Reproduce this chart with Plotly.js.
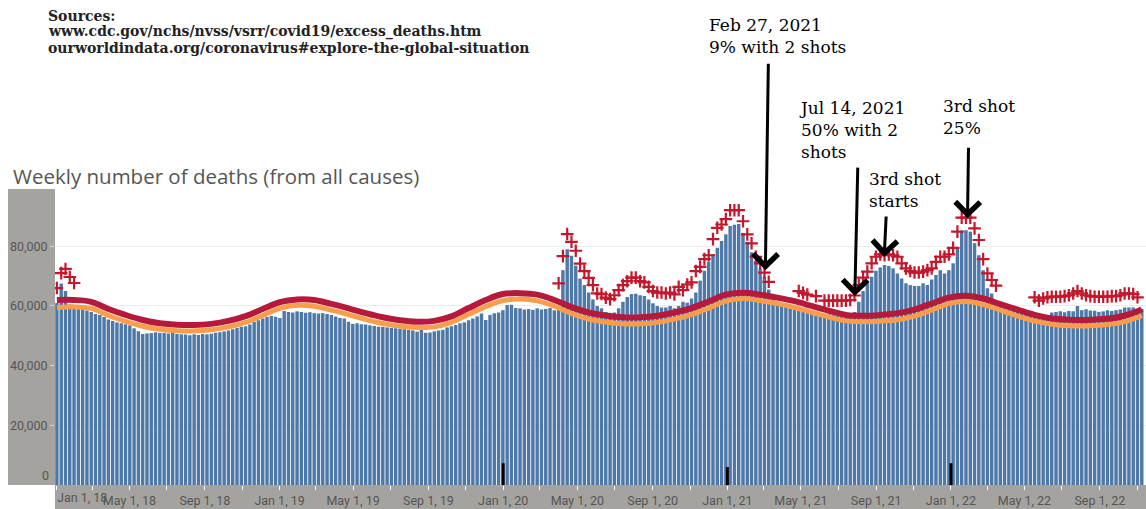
<!DOCTYPE html>
<html><head><meta charset="utf-8">
<script src="https://cdn.plot.ly/plotly-3.0.1.min.js"></script>
<style>html,body{margin:0;padding:0;background:#fff;}#chart{width:1146px;height:509px;}</style>
</head><body><div id="chart"></div>
<script>
const _ = null;
// weekly periods (week starting Saturday), first week starts 2017-12-30
const firstWeek = '2017-12-30';
const weekCount = 254;

// Weekly number of deaths (all causes)
const deaths = [
61000,67500,65000,60500,59500,59500,59300,58500,58000,57300,
57000,56300,55500,55000,54500,54200,53900,53500,52500,51500,
50600,50800,50900,51200,51000,51000,50800,50900,50600,50500,
50400,50200,50500,50300,50600,50500,50700,51000,51200,51500,
51800,52200,52600,53000,53200,53800,54600,55200,55800,56300,
56600,56400,56000,58300,58000,57800,58200,58000,57700,57900,
57600,57500,57600,57300,57000,56500,56000,55800,54700,54000,
54200,53900,53800,53500,53300,53000,53000,52800,52600,52500,
52300,52200,52000,51800,51400,52200,51000,51100,51500,51800,
52000,52800,53200,53600,54200,54500,55200,55800,56500,57500,
55300,57000,57600,57800,58600,60300,60400,59300,59200,58800,
59000,58700,59200,58800,59000,59300,58600,59600,72000,79000,
76800,73500,69200,67000,64500,62200,60000,59200,58000,57700,
57800,59200,61400,63000,64000,64100,63600,63300,62200,60900,
60000,59500,59500,60000,59200,60000,61400,61100,62500,64500,
68500,71800,74800,77400,79500,81800,84000,86800,87200,87500,
84500,81500,78000,75000,72500,69800,65500,62500,61500,60500,
59600,59200,59000,58800,58600,58300,58000,57800,57600,57400,
57200,57000,56900,56800,56600,57000,58000,61400,65000,67600,
69800,71800,72900,73700,73400,72600,70900,69200,67600,67000,
66700,66700,67600,67000,68900,70400,72000,70900,72000,74300,
79800,85200,85400,84900,81000,77000,72000,65900,64200,62000,
61000,60500,60000,59500,59000,58500,58000,57500,56800,56300,
55800,55500,57800,58000,58200,57900,58300,58200,60000,58600,
58900,58500,58400,58000,58200,58600,58300,58600,58800,59500,
59500,59500,58600,59000
];

// weeks flagged above the threshold (+ marks), one entry per week
const flagged = [
66000,71000,72400,69700,67700,_,_,_,_,_,                 // weeks 0-9
_,_,_,_,_,_,_,_,_,_, _,_,_,_,_,_,_,_,_,_,                 // 10-29
_,_,_,_,_,_,_,_,_,_, _,_,_,_,_,_,_,_,_,_,                 // 30-49
_,_,_,_,_,_,_,_,_,_, _,_,_,_,_,_,_,_,_,_,                 // 50-69
_,_,_,_,_,_,_,_,_,_, _,_,_,_,_,_,_,_,_,_,                 // 70-89
_,_,_,_,_,_,_,_,_,_, _,_,_,_,_,_,_,_,_,_,                 // 90-109
_,_,_,_,_,_,_,                                            // 110-116
67600,76700,84100,81500,78500,74200,71700,69400,67000,64200,64000, // 117-127
62800,62300,63600,65300,67000,68300,69500,69500,68300,67900,       // 128-137
66400,65000,64500,64500,64200,64500,63900,66400,65300,67200,       // 138-147
67900,71700,73100,75700,77000,82400,86200,87300,89100,92100,       // 148-157
92100,92100,88400,84000,81000,76500,74300,71200,68100,             // 158-166
_,_,_,_,_,_,                                                       // 167-172
65000,64400,63800,_,63300,_,                                       // 173-178
61800,61800,61800,61800,61800,61800,62000,                         // 179-185
63500,67000,69500,71500,74300,76500,77300,77000,77300,77000,       // 186-195
76500,74300,72600,71700,71200,71200,71500,72000,72600,74800,       // 196-205
76500,76500,77300,79500,84900,89600,89600,89600,86000,82100,       // 206-215
75700,70900,68700,66800,                                           // 216-219
_,_,_,_,_,_,_,_,                                                   // 220-227
62900,61800,62500,62900,63100,63100,63100,63300,63600,64200,       // 228-237
65000,64200,63600,63300,63100,63100,63100,63100,63300,63300,       // 238-247
63600,64200,64200,64000,62900,                                     // 248-252
_                                                                  // 253
];

// threshold lines, read every 4th week (+ last week)
const lineStep = 4;
const upperBound = [
62000,62000,61400,59000,57000,55300,54200,53700,53600,54000,
55000,56600,59000,61300,62200,62000,60700,59200,57600,56200,
55200,54700,55000,56500,59300,62000,64000,64300,63800,62000,
59600,57800,56800,56200,56200,56700,57800,59300,61500,63800,
64400,63800,62800,61600,60000,58400,57000,56700,57000,57600,
58800,60800,62800,63400,62500,60600,58800,57000,55800,55400,
55300,55600,56400,58200,59000
];
const expected = [
59400,59700,59200,56800,54800,53200,52200,51700,51600,52000,
53000,54500,56800,59200,60200,59900,58600,57100,55500,54100,
53200,52800,53000,54500,57200,59800,61800,62300,61700,59900,
57500,55600,54600,54000,54000,54500,55600,57100,59300,61600,
62500,61800,60800,59500,57900,56300,55000,54700,54900,55400,
56600,58600,60800,61500,60500,58600,56600,54900,53900,53400,
53300,53600,54400,56200,56800
];

const tickDates = ['2018-01-01','2018-05-01','2018-09-01','2019-01-01','2019-05-01','2019-09-01','2020-01-01','2020-05-01','2020-09-01','2021-01-01','2021-05-01','2021-09-01','2022-01-01','2022-05-01','2022-09-01'];
const tickLabels = ['Jan 1, 18','May 1, 18','Sep 1, 18','Jan 1, 19','May 1, 19','Sep 1, 19','Jan 1, 20','May 1, 20','Sep 1, 20','Jan 1, 21','May 1, 21','Sep 1, 21','Jan 1, 22','May 1, 22','Sep 1, 22'];
const yTickVals = [20000,40000,60000,80000];
const yTickLabels = ['20,000','40,000','60,000','80,000'];
const yearMarks = ['2020-01-01','2021-01-01','2022-01-01'];
const yearMarkHeights = [7300,6000,7300];

const titleText = 'Weekly number of deaths (from all causes)';
const sourcesLines = ['Sources:','www.cdc.gov/nchs/nvss/vsrr/covid19/excess_deaths.htm','ourworldindata.org/coronavirus#explore-the-global-situation'];
const notes = [
  {text:'Feb 27, 2021<br>9% with 2 shots', tip:['2021-03-04',72000], tail:[3,-208], px:708, top:1.5914},
  {text:'Jul 14, 2021<br>50% with 2<br>shots', tip:['2021-07-28',63300], tail:[3,-130], px:798, top:1.3110},
  {text:'3rd shot<br>starts', tip:['2021-09-14',76400], tail:[2,-42], px:868, top:1.0694},
  {text:'3rd shot<br>25%', tip:['2022-01-28',89400], tail:[1,-72], px:942, top:1.3160}
];

// ---- build
const DAY = 86400000;
const t0 = Date.parse(firstWeek + 'T00:00:00Z');
const weeks = [];
for (let i = 0; i < weekCount; i++) weeks.push(new Date(t0 + i*7*DAY).toISOString().slice(0,10));
const lineWeeks = [];
for (let i = 0; i < weekCount; i += lineStep) lineWeeks.push(weeks[i]);
lineWeeks.push(weeks[weekCount-1]);

const per = {xperiod: 7*DAY, xperiod0: firstWeek, xperiodalignment: 'middle'};

const traces = [
  Object.assign({type:'bar', x:weeks, y:deaths, marker:{color:'#4e78a8', line:{width:0}}, hoverinfo:'skip'}, per),
  Object.assign({type:'scatter', mode:'lines', x:lineWeeks, y:expected, line:{color:'#f89d4b', width:5, shape:'spline', smoothing:1}, hoverinfo:'skip'}, per),
  Object.assign({type:'scatter', mode:'lines', x:lineWeeks, y:upperBound, line:{color:'#b51a3d', width:6, shape:'spline', smoothing:1}, hoverinfo:'skip'}, per),
  Object.assign({type:'scatter', mode:'markers', x:weeks, y:flagged, marker:{symbol:'cross-thin', size:9, line:{width:2.2, color:'#c2172c'}}, hoverinfo:'skip'}, per)
];

const PLOT_L = 55, PLOT_W = 1091, PLOT_B = 485, PLOT_H = 296;
const px2x = p => (p - PLOT_L) / PLOT_W;
const px2y = p => (PLOT_B - p) / PLOT_H;

const annotations = [
  {xref:'paper', yref:'paper', x:px2x(56), y:px2y(497), xanchor:'left', yanchor:'middle', showarrow:false, borderpad:0,
   text:tickLabels[0], font:{family:'Roboto', size:12.5, color:'#555'}},
  {xref:'paper', yref:'paper', x:px2x(49.5), y:px2y(475.5), xanchor:'right', yanchor:'middle', showarrow:false, borderpad:0,
   text:'0', font:{family:'Roboto', size:12.5, color:'#555'}}
];
sourcesLines.forEach((s,i) => annotations.push({xref:'paper', yref:'paper', x:px2x(47), y:px2y(16 + 16*i), xanchor:'left', yanchor:'middle',
  showarrow:false, borderpad:0, text:'<b>' + s + '</b>', font:{family:'DejaVu Serif', size:14, color:'#222'}}));
notes.forEach(n => {
  annotations.push({xref:'paper', yref:'paper', x:px2x(n.px), y:n.top, xanchor:'left', yanchor:'top', align:'left',
    showarrow:false, borderpad:0, text:n.text, font:{family:'DejaVu Serif', size:17, color:'#000'}});
  annotations.push({x:n.tip[0], y:n.tip[1], ax:n.tail[0], ay:n.tail[1], text:'', showarrow:true,
    arrowhead:4, arrowsize:1.6, arrowwidth:3, arrowcolor:'#000', standoff:0, startstandoff:0});
});

const shapes = [
  {type:'rect', xref:'paper', yref:'paper', x0:px2x(8), x1:0, y0:0, y1:1, fillcolor:'#a5a39f', line:{width:0}, layer:'below'},
  {type:'rect', xref:'paper', yref:'paper', x0:0, x1:1, y0:px2y(509), y1:0, fillcolor:'#a5a39f', line:{width:0}, layer:'below'}
];
yearMarks.forEach((d,i) => shapes.push({type:'line', xref:'x', yref:'y', x0:d, x1:d, y0:0, y1:yearMarkHeights[i], line:{color:'#000', width:3}, layer:'above'}));

const layout = {
  width:1146, height:509,
  margin:{l:55, r:0, t:189, b:24, pad:0},
  paper_bgcolor:'#ffffff', plot_bgcolor:'#ffffff',
  showlegend:false, bargap:0.2,
  font:{family:'Roboto', size:12.5, color:'#555'},
  title:{text:titleText, xref:'container', yref:'container', x:13/1146, xanchor:'left', y:1-177/509, yanchor:'middle',
    font:{family:'Open Sans', size:20.5, color:'#555'}},
  xaxis:{type:'date', range:['2017-12-30T09:00:00','2022-11-15T09:00:00'], tickmode:'array', tickvals:tickDates,
    ticktext:tickLabels.map((t,i)=> i===0 ? '' : t), ticks:'outside', ticklen:4, tickcolor:'#ffffff', tickwidth:1,
    minor:{dtick:'M2', tick0:'2018-01-01', ticks:'outside', ticklen:4, tickcolor:'#ffffff', tickwidth:1, showgrid:false},
    showgrid:false, zeroline:false, showline:false, tickfont:{family:'Roboto', size:12.5, color:'#555'}, fixedrange:true},
  yaxis:{range:[0,99200], tickmode:'array', tickvals:yTickVals, ticktext:yTickLabels, showgrid:true, gridcolor:'#ebebeb', gridwidth:1,
    ticks:'outside', ticklen:4, tickcolor:'#d6d6d6', zeroline:false, showline:false,
    tickfont:{family:'Roboto', size:12.5, color:'#555'}, fixedrange:true},
  annotations:annotations,
  shapes:shapes
};

Plotly.newPlot('chart', traces, layout, {displayModeBar:false, staticPlot:true});
</script></body></html>
